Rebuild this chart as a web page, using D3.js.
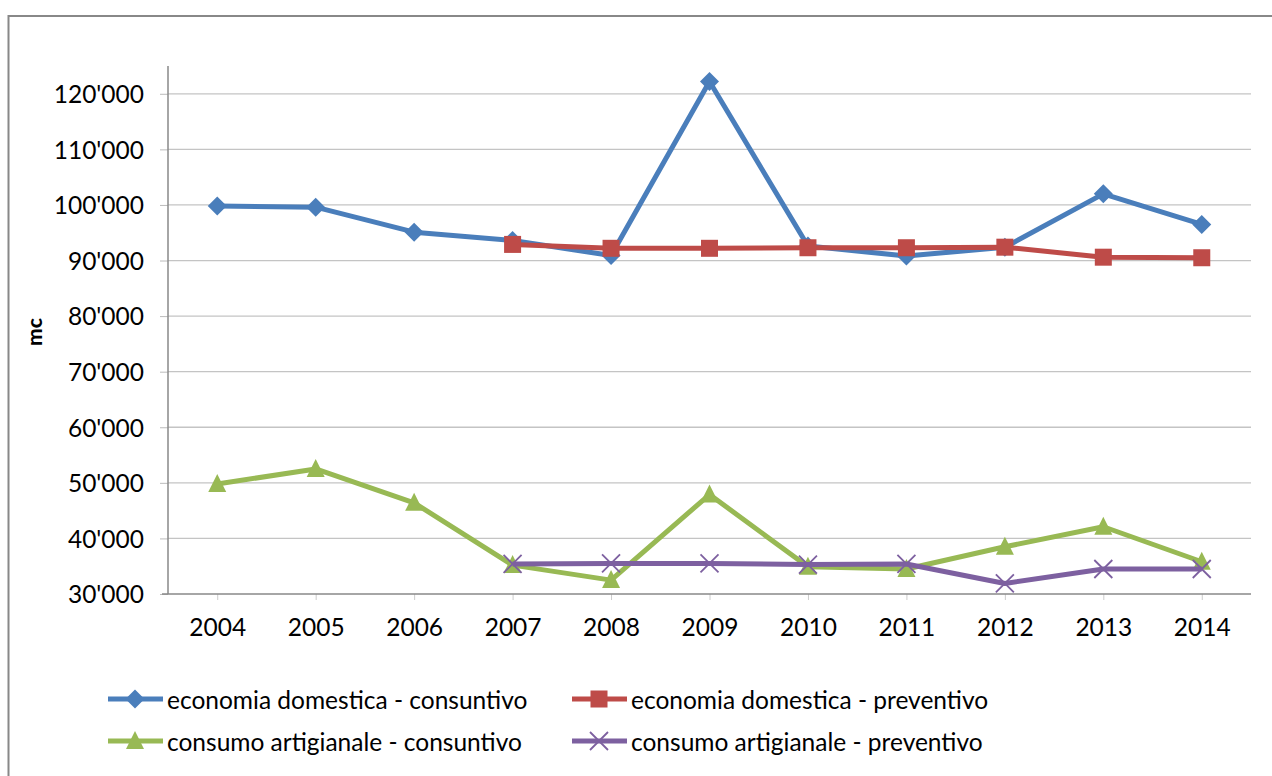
<!DOCTYPE html>
<html>
<head>
<meta charset="utf-8">
<script src="https://cdn.jsdelivr.net/npm/d3@7"></script>
<style>
  html, body { margin: 0; padding: 0; background: #fff; }
  svg { display: block; }
  text { font-family: Lato, "Open Sans", sans-serif; fill: #000; }
</style>
</head>
<body>
<svg id="chart" width="1272" height="776"></svg>
<script>
// Anni e consumi (mc)
const years = ["2004","2005","2006","2007","2008","2009","2010","2011","2012","2013","2014"];
const edConsuntivo = [99800, 99600, 95100, 93600, 90900, 122200, 92600, 90800, 92400, 102000, 96500];
const edPreventivo = [null, null, null, 92900, 92200, 92200, 92300, 92300, 92400, 90600, 90500];
const caConsuntivo = [49800, 52500, 46400, 35200, 32500, 47900, 34900, 34500, 38500, 42100, 35800];
const caPreventivo = [null, null, null, 35400, 35500, 35500, 35300, 35400, 31900, 34500, 34500];
const yTicks = [30000, 40000, 50000, 60000, 70000, 80000, 90000, 100000, 110000, 120000];
const seriesNames = [
  "economia domestica - consuntivo",
  "economia domestica - preventivo",
  "consumo artigianale - consuntivo",
  "consumo artigianale - preventivo"
];

const series = [
  { name: seriesNames[0], values: edConsuntivo, color: "#4A7EBB", marker: "diamond" },
  { name: seriesNames[1], values: edPreventivo, color: "#BE4B48", marker: "square" },
  { name: seriesNames[2], values: caConsuntivo, color: "#98B954", marker: "triangle" },
  { name: seriesNames[3], values: caPreventivo, color: "#7D60A0", marker: "cross" }
];

const svg = d3.select("#chart");
const plot = { left: 168, right: 1251, top: 66, bottom: 594 };
const labelSize = "24.5px";

// cornice esterna del grafico
svg.append("rect")
  .attr("x", 8.5).attr("y", 16)
  .attr("width", 1300).attr("height", 800)
  .attr("fill", "none").attr("stroke", "#888").attr("stroke-width", 2);

const x = d3.scalePoint().domain(years)
  .range([plot.left, plot.right]).padding(0.5);
const y = d3.scaleLinear().domain([30000, 125000])
  .range([plot.bottom, plot.top]);

const fmt = d3.formatLocale({ decimal: ".", thousands: "'", grouping: [3], currency: ["", ""] }).format(",d");

// griglia orizzontale
svg.append("g").selectAll("line")
  .data(yTicks.filter(d => d > 30000))
  .join("line")
  .attr("x1", plot.left).attr("x2", plot.right)
  .attr("y1", d => y(d)).attr("y2", d => y(d))
  .attr("stroke", "#c4c4c4").attr("stroke-width", 1.3);

// asse Y
const yAxis = svg.append("g")
  .attr("transform", `translate(${plot.left},0)`)
  .call(d3.axisLeft(y).tickValues(yTicks).tickFormat(fmt).tickSize(8).tickPadding(16));
yAxis.select(".domain").remove();
yAxis.selectAll(".tick line").attr("stroke", "#bbb");
yAxis.selectAll(".tick text")
  .style("font-size", labelSize).attr("dy", "0.36em").attr("fill", "#000");
svg.append("line")
  .attr("x1", plot.left).attr("x2", plot.left)
  .attr("y1", plot.top).attr("y2", plot.bottom)
  .attr("stroke", "#888").attr("stroke-width", 1.5);

// asse X
const xAxis = svg.append("g")
  .attr("transform", `translate(0,${plot.bottom})`)
  .call(d3.axisBottom(x).tickSize(6).tickPadding(19));
xAxis.select(".domain").remove();
xAxis.selectAll(".tick line").attr("stroke", "#ccc");
xAxis.selectAll(".tick text")
  .style("font-size", labelSize).attr("fill", "#000");
svg.append("line")
  .attr("x1", plot.left - 6).attr("x2", plot.right)
  .attr("y1", plot.bottom).attr("y2", plot.bottom)
  .attr("stroke", "#888").attr("stroke-width", 1.5);

// titolo asse Y
svg.append("text")
  .attr("transform", `translate(33,${(plot.top + plot.bottom) / 2 + 2}) rotate(-90)`)
  .attr("text-anchor", "middle").attr("dominant-baseline", "central")
  .style("font-size", "21px").style("font-weight", "900")
  .text("mc");

// simboli
function drawMarker(g, type, cx, cy, color) {
  if (type === "diamond") {
    g.append("path")
      .attr("d", `M${cx},${cy - 9.5}L${cx + 9.5},${cy}L${cx},${cy + 9.5}L${cx - 9.5},${cy}Z`)
      .attr("fill", color);
  } else if (type === "square") {
    g.append("rect")
      .attr("x", cx - 8.5).attr("y", cy - 8.5).attr("width", 17).attr("height", 17)
      .attr("fill", color);
  } else if (type === "triangle") {
    g.append("path")
      .attr("d", `M${cx},${cy - 10}L${cx + 9},${cy + 8}L${cx - 9},${cy + 8}Z`)
      .attr("fill", color);
  } else if (type === "cross") {
    g.append("path")
      .attr("d", `M${cx - 9},${cy - 9}L${cx + 9},${cy + 9}M${cx - 9},${cy + 9}L${cx + 9},${cy - 9}`)
      .attr("stroke", color).attr("stroke-width", 1.8).attr("fill", "none");
  }
}

const line = d3.line()
  .defined(d => d.v != null)
  .x(d => x(d.year)).y(d => y(d.v));

series.forEach(s => {
  const pts = years.map((yr, i) => ({ year: yr, v: s.values[i] }));
  const g = svg.append("g");
  g.append("path")
    .datum(pts)
    .attr("d", line)
    .attr("fill", "none")
    .attr("stroke", s.color)
    .attr("stroke-width", 5)
    .attr("stroke-linejoin", "round");
  pts.filter(p => p.v != null).forEach(p => drawMarker(g, s.marker, x(p.year), y(p.v), s.color));
});

// legenda
const legendPos = [
  { lx: 108, ly: 699 },
  { lx: 572, ly: 699 },
  { lx: 108, ly: 741 },
  { lx: 572, ly: 741 }
];
series.forEach((s, i) => {
  const p = legendPos[i];
  const g = svg.append("g");
  g.append("line")
    .attr("x1", p.lx).attr("x2", p.lx + 55)
    .attr("y1", p.ly).attr("y2", p.ly)
    .attr("stroke", s.color).attr("stroke-width", 5);
  drawMarker(g, s.marker, p.lx + 27, p.ly, s.color);
  g.append("text")
    .attr("x", p.lx + 59).attr("y", p.ly)
    .attr("dominant-baseline", "central")
    .style("font-size", labelSize)
    .text(s.name);
});
</script>
</body>
</html>
